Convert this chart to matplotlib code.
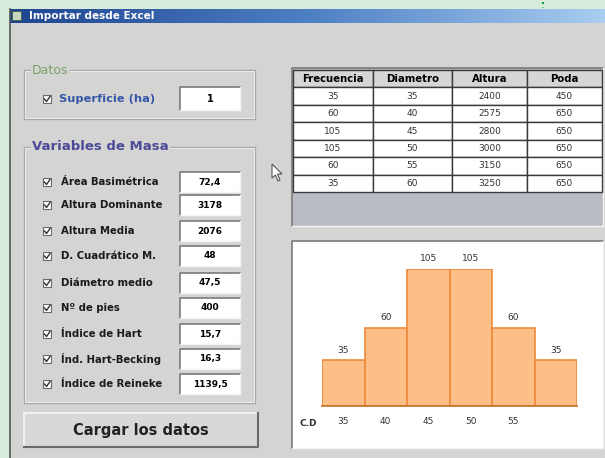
import numpy as np
import matplotlib.pyplot as plt
from matplotlib.patches import Rectangle, Polygon
from matplotlib.colors import LinearSegmentedColormap

W, H = 605, 458

# datos de la tabla
columnas = ['Frecuencia', 'Diametro', 'Altura', 'Poda']
frecuencia = [35, 60, 105, 105, 60, 35]
diametro = [35, 40, 45, 50, 55, 60]
altura = [2400, 2575, 2800, 3000, 3150, 3250]
poda = [450, 650, 650, 650, 650, 650]
cd_labels = ['35', '40', '45', '50', '55']

# variables de masa
variables = ['Área Basimétrica', 'Altura Dominante', 'Altura Media',
             'D. Cuadrático M.', 'Diámetro medio', 'Nº de pies',
             'Índice de Hart', 'Índ. Hart-Becking', 'Índice de Reineke']
valores = ['72,4', '3178', '2076', '48', '47,5', '400', '15,7', '16,3', '1139,5']
superficie = '1'

GRIS = '#d4d4d2'


def px2fig(x0, y0, x1, y1):
    return [x0 / W, 1 - y1 / H, (x1 - x0) / W, (y1 - y0) / H]


def hundido(ax, x0, y0, x1, y1, fill='white'):
    ax.add_patch(Rectangle((x0, y0), x1 - x0, y1 - y0, fc=fill, ec='none'))
    ax.plot([x0, x0, x1], [y1, y0, y0], color='#7a7a7a', lw=1.2)
    ax.plot([x0, x1, x1], [y1, y1, y0], color='#f4f4f4', lw=1)


def casilla(ax, x, y):
    ax.add_patch(Rectangle((x, y - 4), 8, 8, fc='white', ec='#6a6a6a', lw=0.8))
    ax.plot([x + 1.5, x + 3.5, x + 7], [y, y + 2.5, y - 2.5], color='#333333', lw=1)


def grupo(ax, x0, y0, x1, y1, titulo, color, size, weight):
    ax.add_patch(Rectangle((x0, y0), x1 - x0, y1 - y0, fc='none', ec='#a8a8a8', lw=1))
    ax.add_patch(Rectangle((x0 + 1, y0 + 1), x1 - x0 - 2, y1 - y0 - 2, fc='none', ec='#f2f2f2', lw=0.6))
    ax.text(x0 + 8, y0, titulo, color=color, fontsize=size, fontweight=weight,
            va='center', ha='left', bbox=dict(fc=GRIS, ec='none', pad=1))


fig = plt.figure(figsize=(6.05, 4.58), dpi=100)
fig.patch.set_facecolor('#d8ecdc')
bg = fig.add_axes([0, 0, 1, 1])
bg.axis('off')

# ventana
bg.add_patch(Rectangle((10, 9), W - 10, H - 9, fc=GRIS, ec='none'))
bg.plot([10, 10], [9, H], color='#555555', lw=1.2)
grad = np.linspace(0, 1, 300).reshape(1, -1)
cmap = LinearSegmentedColormap.from_list('titulo', ['#1f4590', '#4d7fc4', '#a9cdf0'])
bg.imshow(grad, extent=(10, W, 23, 9), aspect='auto', cmap=cmap, zorder=1)
bg.add_patch(Rectangle((12, 11), 9, 9, fc='#c8d8c0', ec='#406040', lw=0.6, zorder=2))
bg.text(29, 16, 'Importar desde Excel', color='white', fontsize=7.5,
        fontweight='bold', va='center', zorder=3)
bg.plot([543, 543], [2, 8], ls=':', color='#1a9a4a', lw=1.5)

# grupo Datos
grupo(bg, 24, 70, 255, 119, 'Datos', '#7aa06a', 9, 'normal')
casilla(bg, 43, 99)
bg.text(59, 99, 'Superficie (ha)', color='#3556a8', fontsize=8.2, fontweight='bold', va='center')
hundido(bg, 180, 87, 240, 110)
bg.text(210, 99, superficie, fontsize=7, fontweight='bold', ha='center', va='center')

# grupo Variables de Masa
grupo(bg, 24, 147, 255, 403, 'Variables de Masa', '#4a4a98', 9.5, 'bold')
filas_y = [182, 205, 231, 256, 283, 308, 334, 359, 384]
for nombre, valor, y in zip(variables, valores, filas_y):
    casilla(bg, 43, y)
    bg.text(61, y, nombre, fontsize=7.3, fontweight='bold', color='#1a1a1a', va='center')
    hundido(bg, 180, y - 10, 240, y + 10)
    bg.text(210, y, valor, fontsize=6.5, fontweight='bold', ha='center', va='center')

# boton
bg.add_patch(Rectangle((24, 413), 234, 34, fc='#d8d8d6', ec='none'))
bg.plot([24, 24, 258], [447, 413, 413], color='#f8f8f8', lw=1.2)
bg.plot([24, 258, 258], [447, 447, 413], color='#6a6a6a', lw=1.5)
bg.text(141, 431, 'Cargar los datos', fontsize=10.5, fontweight='bold',
        color='#222222', ha='center', va='center')

# cursor
bg.add_patch(Polygon([(272, 164), (272, 178), (275.5, 175), (278, 181), (280, 180),
                      (277.5, 174), (282, 174)], closed=True, fc='white', ec='#555555', lw=0.8))

# tabla
hundido(bg, 292, 68, 603, 226, fill='#b9bcc2')
ax_t = fig.add_axes(px2fig(293, 70, 602, 192))
ax_t.axis('off')
celdas = [[str(f), str(d), str(a), str(p)] for f, d, a, p in zip(frecuencia, diametro, altura, poda)]
tab = ax_t.table(cellText=celdas, colLabels=columnas, bbox=[0, 0, 1, 1],
                 cellLoc='center', colWidths=[80, 79, 75, 75])
tab.auto_set_font_size(False)
for (r, c), cell in tab.get_celld().items():
    cell.set_edgecolor('#3a3a3a')
    cell.set_linewidth(1)
    if r == 0:
        cell.set_facecolor('#d6d6d4')
        cell.get_text().set_fontsize(7.3)
        cell.get_text().set_fontweight('bold')
    else:
        cell.set_facecolor('white')
        cell.get_text().set_fontsize(6.5)
        cell.get_text().set_color('#333333')

# panel del grafico
hundido(bg, 292, 241, 603, 448)
bg.text(300, 423, 'C.D', fontsize=6.5, fontweight='bold', color='#333333', va='center')

bg.set_xlim(0, W)
bg.set_ylim(H, 0)

ax = fig.add_axes(px2fig(322, 269, 577, 406))
ax.patch.set_alpha(0)
x = np.arange(len(frecuencia))
ax.bar(x, frecuencia, width=1, align='edge', color='#fdbf88', edgecolor='#ee8a3a', lw=1.2)
for xi, v in zip(x, frecuencia):
    ax.annotate(str(v), (xi + 0.5, v), xytext=(0, 4), textcoords='offset points',
                ha='center', va='bottom', fontsize=6.5, color='#333333')
ax.set_xlim(0, 6)
ax.set_ylim(0, 105)
ax.set_xticks(x[:len(cd_labels)] + 0.5, cd_labels)
ax.tick_params(axis='x', length=0, pad=8, labelsize=6.5, labelcolor='#333333')
ax.set_yticks([])
for s in ['top', 'left', 'right']:
    ax.spines[s].set_visible(False)
ax.spines['bottom'].set_color('#c9782e')
ax.spines['bottom'].set_linewidth(1.3)

fig.savefig('out.png', dpi=100)
